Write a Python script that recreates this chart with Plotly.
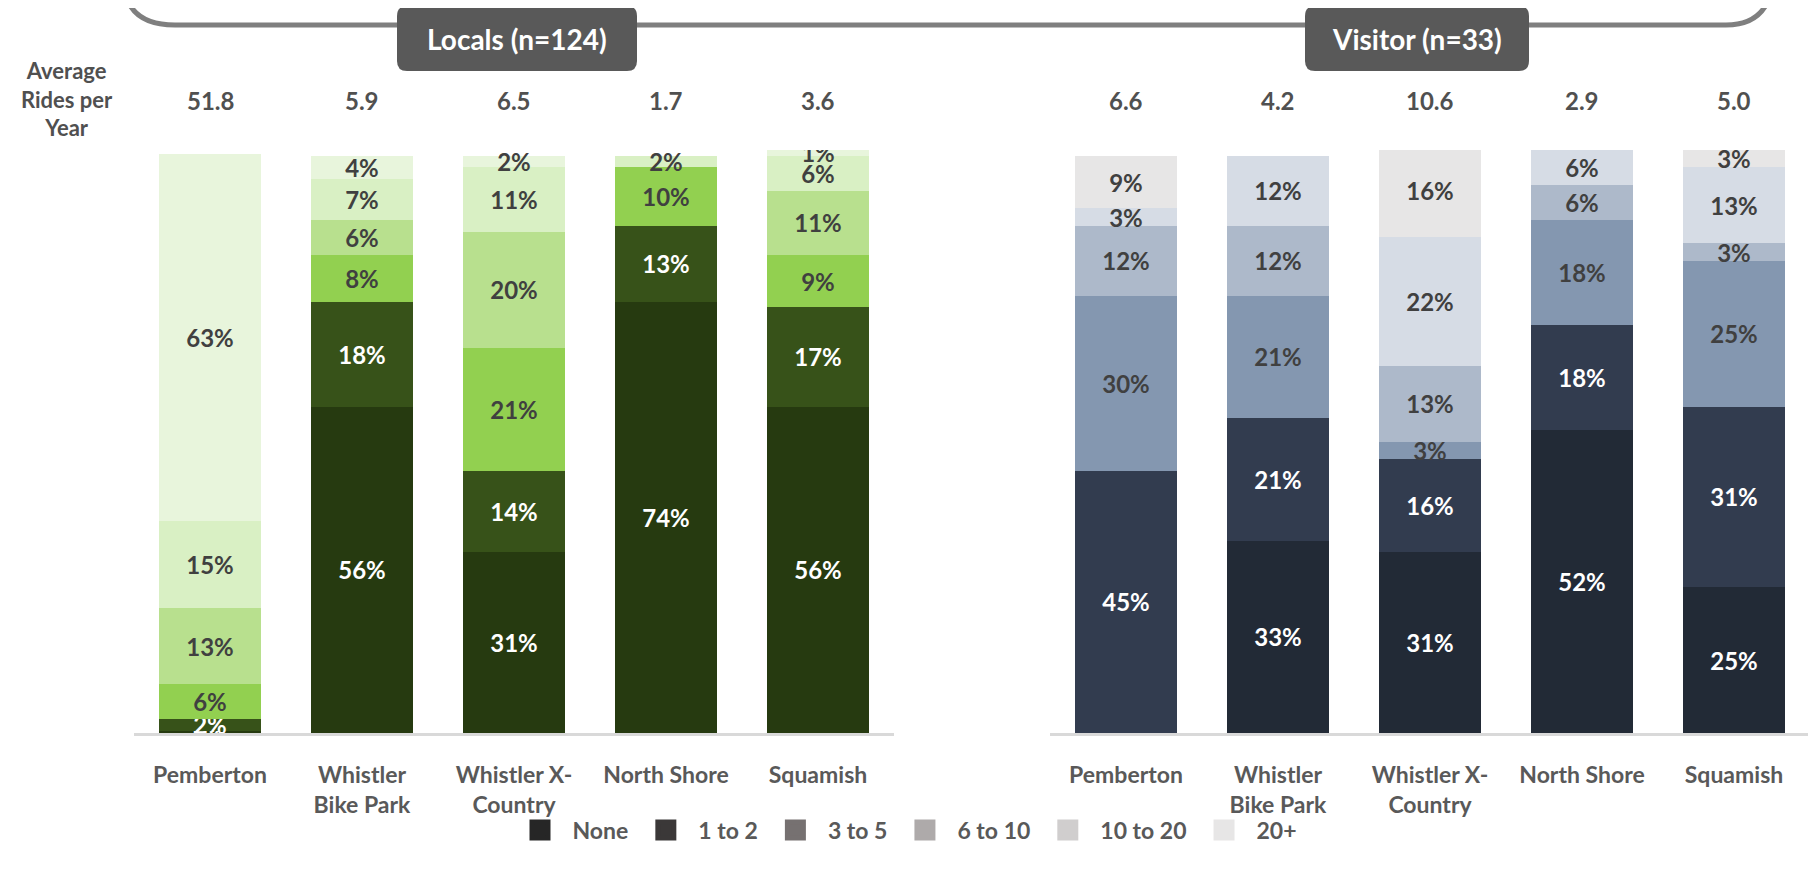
import plotly.graph_objects as go

W, H = 1816, 873

sites = ["Pemberton", "Whistler<br>Bike Park", "Whistler X-<br>Country", "North Shore", "Squamish"]
bands = ["None", "1 to 2", "3 to 5", "6 to 10", "10 to 20", "20+"]

# percent of riders per band, one list per band (order = sites)
locals_none = [0.4, 56, 31, 74, 56]
locals_1_2 = [2, 18, 14, 13, 17]
locals_3_5 = [6, 8, 21, 10, 9]
locals_6_10 = [13, 6, 20, 0, 11]
locals_10_20 = [15, 7, 11, 2, 6]
locals_20p = [63, 4, 2, 0, 1]

visit_none = [0, 33, 31, 52, 25]
visit_1_2 = [45, 21, 16, 18, 31]
visit_3_5 = [30, 21, 3, 18, 25]
visit_6_10 = [12, 12, 13, 6, 3]
visit_10_20 = [3, 12, 22, 6, 13]
visit_20p = [9, 0, 16, 0, 3]

locals_avg = ["51.8", "5.9", "6.5", "1.7", "3.6"]
visit_avg = ["6.6", "4.2", "10.6", "2.9", "5.0"]

locals_colors = ["#263a10", "#375219", "#92d050", "#b8e08e", "#d9f0c4", "#e8f5dc"]
visit_colors = ["#222a36", "#323c4f", "#8497b0", "#adb9ca", "#d6dce5", "#e7e6e6"]
legend_colors = ["#262626", "#3b3838", "#767171", "#aeaaaa", "#d0cece", "#e7e6e6"]

FONT = "Lato"
OFF = 8  # page body margin


def px(x):
    return (x - OFF) / W


def py(y):
    return 1 - (y - OFF) / H


fig = go.Figure()

groups = [
    ([locals_none, locals_1_2, locals_3_5, locals_6_10, locals_10_20, locals_20p], locals_colors, "x", "y"),
    ([visit_none, visit_1_2, visit_3_5, visit_6_10, visit_10_20, visit_20p], visit_colors, "x2", "y2"),
]
for series, colors, xa, ya in groups:
    for i, (vals, col) in enumerate(zip(series, colors)):
        fig.add_trace(go.Bar(
            x=sites, y=vals, name=bands[i], marker=dict(color=col, line=dict(width=0)),
            text=[f"{v:.0f}%" if v > 0 else "" for v in vals],
            textposition="inside", insidetextanchor="middle", textangle=0,
            constraintext="none",
            textfont=dict(family=FONT, size=24, weight="bold",
                          color="white" if i < 2 else "#404040"),
            xaxis=xa, yaxis=ya, showlegend=False, width=0.67,
        ))

# legend (grayscale swatches)
for name, col in zip(bands, legend_colors):
    fig.add_trace(go.Scatter(
        x=[None], y=[None], mode="markers", name=name,
        marker=dict(symbol="square", size=24, color=col, line=dict(color=col, width=5)),
        showlegend=True,
    ))

axis_common = dict(
    type="category", showline=True, linecolor="#d9d9d9", linewidth=3,
    ticks="", tickfont=dict(family=FONT, size=23, weight="bold", color="#595959"),
    showgrid=False, zeroline=False, ticklabelstandoff=19, fixedrange=True,
)
fig.update_layout(
    xaxis=dict(domain=[px(134), px(894)], anchor="y", **axis_common),
    xaxis2=dict(domain=[px(1050), px(1810)], anchor="y2", **axis_common),
    yaxis=dict(domain=[py(733), py(150)], range=[0, 100], visible=False),
    yaxis2=dict(domain=[py(733), py(150)], range=[0, 100], visible=False),
)

annotations = []
for xa, avgs in (("x", locals_avg), ("x2", visit_avg)):
    for s, a in zip(sites, avgs):
        annotations.append(dict(
            x=s, xref=xa, y=py(101), yref="paper", text=f"<b>{a}</b>", showarrow=False,
            xanchor="center", yanchor="middle",
            font=dict(family=FONT, size=24, weight="bold", color="#505050"),
        ))
annotations.append(dict(
    x=px(67), y=py(99), xref="paper", yref="paper", text="<b>Average<br>Rides per<br>Year</b>",
    showarrow=False, xanchor="center", yanchor="middle",
    font=dict(family=FONT, size=22, weight="bold", color="#505050"), align="center",
))

shapes = []
# bracket over both groups
shapes.append(dict(
    type="path", xref="paper", yref="paper",
    path=(f"M {px(126)},{py(-4)} C {px(132)},{py(16)} {px(148)},{py(25)} {px(175)},{py(25)} "
          f"L {px(1726)},{py(25)} C {px(1750)},{py(25)} {px(1764)},{py(14)} {px(1770)},{py(-4)}"),
    line=dict(color="#7f7f7f", width=5),
))


def rounded_box(x0, y0, x1, y1, r=10):
    return (f"M {px(x0 + r)},{py(y0)} L {px(x1 - r)},{py(y0)} Q {px(x1)},{py(y0)} {px(x1)},{py(y0 + r)} "
            f"L {px(x1)},{py(y1 - r)} Q {px(x1)},{py(y1)} {px(x1 - r)},{py(y1)} "
            f"L {px(x0 + r)},{py(y1)} Q {px(x0)},{py(y1)} {px(x0)},{py(y1 - r)} "
            f"L {px(x0)},{py(y0 + r)} Q {px(x0)},{py(y0)} {px(x0 + r)},{py(y0)} Z")


for (x0, x1), label in (((397, 637), "Locals (n=124)"), ((1305, 1529), "Visitor (n=33)")):
    shapes.append(dict(type="path", xref="paper", yref="paper", path=rounded_box(x0, 6, x1, 71),
                       fillcolor="#595959", line=dict(width=0)))
    annotations.append(dict(
        x=px((x0 + x1) / 2), y=py(39), xref="paper", yref="paper", text=f"<b>{label}</b>",
        showarrow=False, xanchor="center", yanchor="middle",
        font=dict(family=FONT, size=28, weight="bold", color="white"),
    ))

fig.update_layout(
    barmode="stack", width=W, height=H, margin=dict(l=0, r=0, t=0, b=0),
    paper_bgcolor="white", plot_bgcolor="white",
    shapes=shapes, annotations=annotations,
    uniformtext=dict(minsize=24, mode="show"),
    legend=dict(orientation="h", x=px(905), xanchor="center", y=py(830), yanchor="middle",
                bgcolor="rgba(0,0,0,0)",
                font=dict(family=FONT, size=23, weight="bold", color="#595959"), itemsizing="trace",
                traceorder="normal", itemwidth=55),
)

fig.write_html("out.html")
